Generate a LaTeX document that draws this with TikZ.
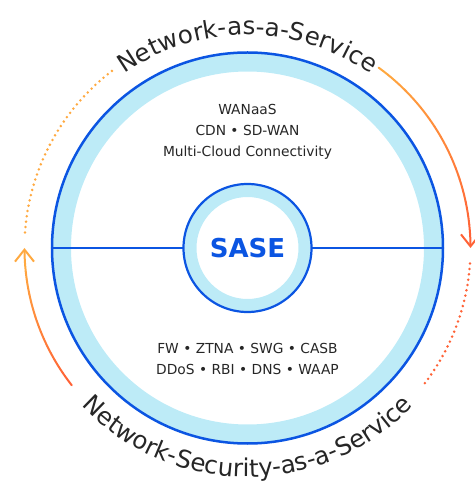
\documentclass[tikz,border=0pt]{standalone}
\usepackage{fontspec}
\setmainfont{DejaVu Sans}
\usetikzlibrary{arrows.meta,decorations.text}

\definecolor{saseblue}{HTML}{0B55E2}
\definecolor{bandblue}{HTML}{BDEBF7}
\definecolor{ambr}{HTML}{FFA940}
\definecolor{coral}{HTML}{FF6236}
\definecolor{inktext}{HTML}{262626}

\tikzset{
  ring/.style={circle, draw=saseblue, outer sep=0pt, inner sep=0pt},
  band/.style={draw=bandblue},
  flowline/.style={line width=2pt, line cap=round},
  dotline/.style={line width=2.8pt, line cap=round, dash pattern=on 0pt off 5.4pt},
  tip/.style={-{Straight Barb[length=12pt,width=19pt]}},
  svclist/.style={text=inktext, font=\fontsize{13.8pt}{21pt}\selectfont, align=center},
}
\newcommand\arcfont{\fontsize{24.5pt}{25pt}\selectfont\color{inktext}}

\begin{document}
\begin{tikzpicture}[x=1pt,y=1pt]
	\useasboundingbox (-247.5,-239) rectangle (226.5,248);
	% light bands under the rings
	\draw[band, line width=18pt] (0,0) circle[radius=185.5pt];
	\draw[band, line width=12pt] (0,0) circle[radius=57pt];
	\node[ring, line width=2.5pt, minimum size=391pt] (outer) at (0,0) {};
	\node[ring, line width=2.2pt, minimum size=128pt, text=saseblue, font=\bfseries\fontsize{26pt}{26pt}\selectfont] (core) at (0,0) {SASE};
	\draw[saseblue, line width=2pt] (outer.west) -- (core.west);
	\draw[saseblue, line width=2pt] (core.east) -- (outer.east);
	\node[svclist] (naas) at (0,116) {WANaaS\\CDN • SD-WAN\\Multi-Cloud Connectivity};
	\node[svclist] (nsaas) at (0,-110.5) {FW • ZTNA • SWG • CASB\\DDoS • RBI • DNS • WAAP};
	% curved titles
	\path[decorate, decoration={text along path, text align=center, text={|\arcfont|Network-as-a-Service}}]
		(128:213pt) arc[start angle=128, end angle=52, radius=213pt];
	\path[decorate, decoration={text along path, text align=center, text={|\arcfont|Network-Security-as-a-Service}}]
		(216:229pt) arc[start angle=216, end angle=324, radius=229pt];
	% left side
	\draw[dotline, ambr] (176:223pt) arc[start angle=176, end angle=127, radius=223pt];
	\foreach \i [evaluate=\i as \p using 6*\i, evaluate=\i as \a using 218-2*\i] in {0,...,15}
		\draw[flowline, draw=ambr!\p!coral] (\a:223pt) arc[start angle=\a, delta angle=-2, radius=223pt];
	\draw[flowline, tip, ambr] (186:223pt) arc[start angle=186, end angle=180, radius=223pt];
	% right side
	\draw[dotline, coral] (-4:223pt) arc[start angle=-4, end angle=-38, radius=223pt];
	\foreach \i [evaluate=\i as \p using 100-6*\i, evaluate=\i as \a using 54-3*\i] in {0,...,15}
		\draw[flowline, draw=ambr!\p!coral] (\a:223pt) arc[start angle=\a, delta angle=-3, radius=223pt];
	\draw[flowline, tip, coral] (6:223pt) arc[start angle=6, end angle=0, radius=223pt];
\end{tikzpicture}
\end{document}
